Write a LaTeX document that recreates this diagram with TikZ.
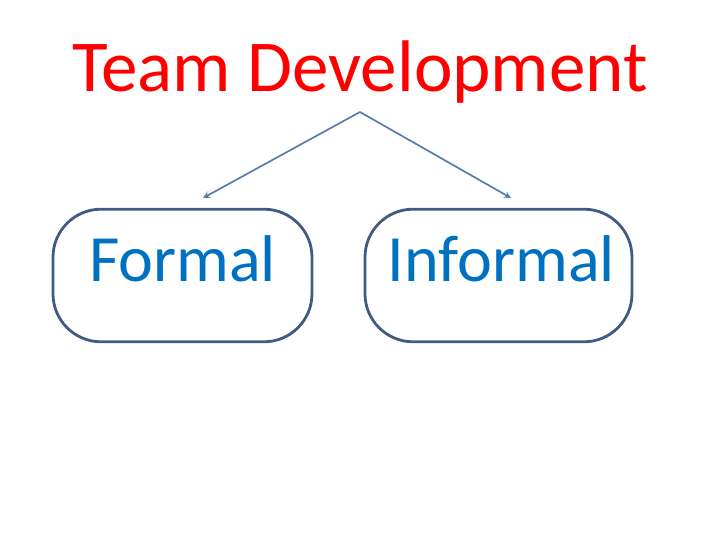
\documentclass[tikz,border=0pt]{standalone}
\usepackage{fontspec}
\setmainfont{Carlito}
\definecolor{titlered}{RGB}{255,0,0}
\definecolor{boxline}{RGB}{64,90,130}
\definecolor{boxtext}{RGB}{0,112,192}
\definecolor{arrowblue}{RGB}{84,124,172}
\begin{document}
\begin{tikzpicture}[
  kind/.style={draw=boxline,line width=2pt,rounded corners=1.2cm,inner sep=0pt,
    text=boxtext,font=\fontsize{47}{56}\selectfont,align=center,
    text height=1.815cm,text depth=1.5cm},
  branch/.style={->,>=stealth,line width=1.2pt,arrowblue}]
\useasboundingbox (0,0) rectangle (18,13.5);
\node[text=titlered,font=\fontsize{52}{60}\selectfont,anchor=base] (title) at (9.0,11.2) {Team Development};
\node[kind,text width=6.475cm] (formal) at (4.5625,6.6125) {Formal};
\node[kind,text width=6.675cm] (informal) at (12.4625,6.6125) {\hspace{0.15cm}Informal};
% arrows from under the title
\coordinate (fork) at (9.0,10.7);
\coordinate (formaltip) at (5.075,8.55);
\coordinate (informaltip) at (12.775,8.55);
\draw[branch] (fork) -- (formaltip);
\draw[branch] (fork) -- (informaltip);
\end{tikzpicture}
\end{document}
